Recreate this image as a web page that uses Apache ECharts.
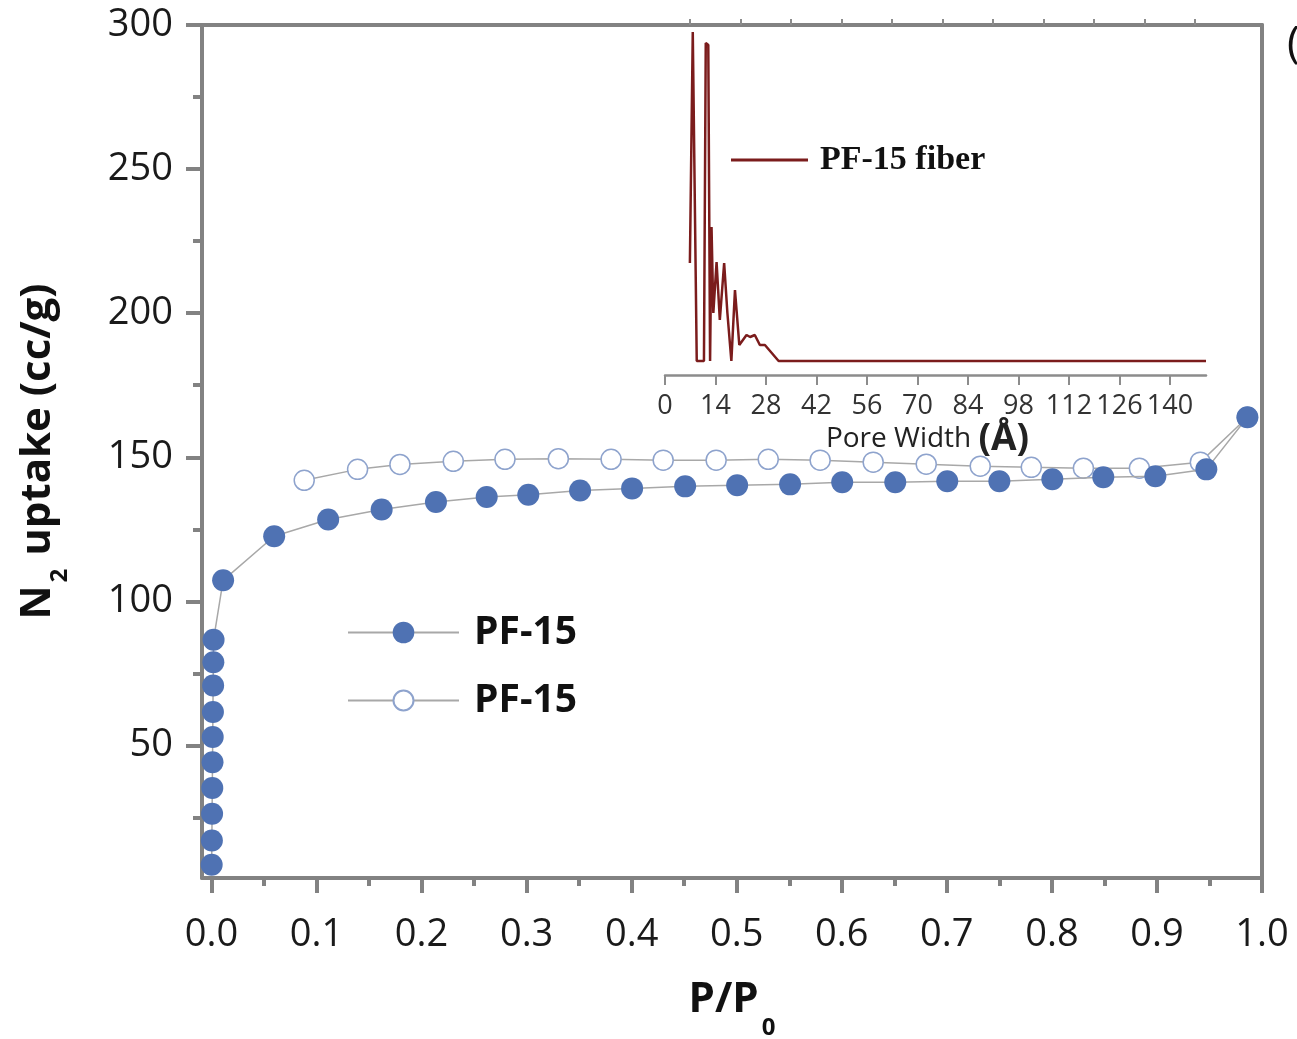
<!DOCTYPE html>
<html>
<head>
<meta charset="utf-8">
<title>N2 isotherm of PF-15</title>
<script src="https://cdn.jsdelivr.net/npm/echarts@6/dist/echarts.min.js"></script>
<style>
  html, body { margin: 0; padding: 0; background: #ffffff; }
  #chart { width: 1297px; height: 1039px; }
</style>
</head>
<body>
<div id="chart"></div>
<script>
// Adsorption branch (P/P0, N2 uptake in cc/g)
const adsP = [0.0002, 0.0004, 0.0006, 0.0008, 0.001, 0.0012, 0.0014, 0.0016, 0.0018, 0.002,
  0.0111, 0.0597, 0.1111, 0.162, 0.2137, 0.262, 0.3016, 0.3509, 0.4004, 0.4509, 0.5004,
  0.5508, 0.6004, 0.6509, 0.7004, 0.750, 0.8004, 0.8489, 0.8985, 0.947, 0.9861];
const adsV = [8.6, 17.0, 26.3, 35.2, 44.2, 52.9, 61.6, 70.8, 78.9, 86.7,
  107.3, 122.6, 128.4, 131.9, 134.5, 136.2, 137.0, 138.5, 139.2, 139.9, 140.3,
  140.6, 141.3, 141.3, 141.7, 141.7, 142.4, 143.1, 143.4, 145.8, 163.9];

// Desorption branch, running down from the top of the isotherm
const desP = [0.9861, 0.9413, 0.8833, 0.830, 0.7804, 0.7318, 0.6804, 0.6299, 0.5794, 0.530,
  0.4804, 0.430, 0.3804, 0.3302, 0.2794, 0.2302, 0.1794, 0.1391, 0.0883];
const desV = [163.9, 148.3, 146.2, 146.2, 146.5, 146.9, 147.6, 148.3, 149.0, 149.3,
  149.0, 149.0, 149.3, 149.5, 149.3, 148.6, 147.5, 145.8, 142.0];

// Pore size distribution of the fiber (pore width in Å, arbitrary units)
const poreW = [6.9, 7.7, 8.8, 10.8, 11.3, 12.0, 12.5, 12.9, 13.4, 14.3, 15.2, 16.4, 17.3, 18.4,
  19.4, 20.6, 22.6, 23.6, 24.9, 26.3, 27.7, 31.5, 150];
const poreD = [11.2, 34.3, 1.4, 1.4, 33.2, 33.0, 1.4, 14.8, 6.2, 11.3, 5.5, 11.2, 6.2, 1.4,
  8.5, 3.0, 4.0, 3.8, 4.0, 3.0, 3.0, 1.4, 1.4];

// Tick positions
const xMajor = [0, 0.1, 0.2, 0.3, 0.4, 0.5, 0.6, 0.7, 0.8, 0.9, 1.0];
const xMinor = [0.05, 0.15, 0.25, 0.35, 0.45, 0.55, 0.65, 0.75, 0.85, 0.95];
const yMajor = [50, 100, 150, 200, 250, 300];
const yMinor = [25, 75, 125, 175, 225, 275];
const poreMajor = [0, 14, 28, 42, 56, 70, 84, 98, 112, 126, 140];
const poreMinor = [7, 21, 35, 49, 63, 77, 91, 105, 119, 133, 147];

const seriesNames = { ads: 'PF-15 adsorption', des: 'PF-15 desorption', fiber: 'PF-15 fiber' };

const zip = (a, b) => a.map((v, i) => [v, b[i]]);

const AXIS_GREY = '#828282';
const FONT = '"Open Sans", "Noto Sans", sans-serif';
const BLUE = '#4f72b3';

const chart = echarts.init(document.getElementById('chart'), null, { renderer: 'canvas' });

const mainX = { min: -0.009, max: 1.0 };
const mainY = { min: 4, max: 300 };
const lineAt = (color, width) => ({ show: true, onZero: false, lineStyle: { color, width } });
const noLine = { show: false, onZero: false };

chart.setOption({
  animation: false,
  backgroundColor: '#ffffff',
  grid: [
    { left: 202, right: 35, top: 25, bottom: 161, outerBoundsMode: 'none' },
    { left: 665, right: 91, top: 25, bottom: 664, outerBoundsMode: 'none' }
  ],
  xAxis: [
    { // main bottom axis with labels and major ticks
      type: 'value', gridIndex: 0, ...mainX, position: 'bottom',
      axisLine: lineAt(AXIS_GREY, 4),
      axisTick: { show: true, customValues: xMajor, length: 15, inside: false,
        lineStyle: { color: AXIS_GREY, width: 4 } },
      axisLabel: { show: true, customValues: xMajor, margin: 38,
        formatter: v => v.toFixed(1),
        fontFamily: FONT, fontSize: 38, color: '#1a1a1a' },
      splitLine: { show: false },
      name: '{b|P/P}{s|0}', nameLocation: 'middle', nameGap: 82,
      nameTextStyle: {
        rich: {
          b: { fontFamily: FONT, fontSize: 42, fontWeight: 'bold', color: '#111' },
          s: { fontFamily: FONT, fontSize: 24, fontWeight: 'bold', color: '#111', padding: [56, 0, 0, 3] }
        }
      }
    },
    { // minor ticks of the bottom axis
      type: 'value', gridIndex: 0, ...mainX, position: 'bottom',
      axisLine: noLine,
      axisTick: { show: true, customValues: xMinor, length: 8, lineStyle: { color: AXIS_GREY, width: 4 } },
      axisLabel: { show: false }, splitLine: { show: false }
    },
    { // top frame line
      type: 'value', gridIndex: 0, ...mainX, position: 'top',
      axisLine: lineAt(AXIS_GREY, 4),
      axisTick: { show: false }, axisLabel: { show: false }, splitLine: { show: false }
    },
    { // inset pore-width axis
      type: 'value', gridIndex: 1, min: 0, max: 150,
      axisLine: lineAt('#8c8c8c', 2.5),
      axisTick: { show: true, customValues: poreMajor, length: 10, lineStyle: { color: '#8c8c8c', width: 2 } },
      axisLabel: { show: true, customValues: poreMajor, margin: 18,
        fontFamily: FONT, fontSize: 27, color: '#333' },
      splitLine: { show: false },
      name: '{a|Pore Width }{b|(Å)}', nameLocation: 'middle', nameGap: 44,
      nameTextStyle: {
        padding: [0, 16, 0, 0],
        rich: {
          a: { fontFamily: FONT, fontSize: 28, color: '#222' },
          b: { fontFamily: FONT, fontSize: 37, fontWeight: 'bold', color: '#222' }
        }
      }
    },
    { // inset minor ticks
      type: 'value', gridIndex: 1, min: 0, max: 150,
      axisLine: noLine,
      axisTick: { show: true, customValues: poreMinor, length: 6, lineStyle: { color: '#8c8c8c', width: 2 } },
      axisLabel: { show: false }, splitLine: { show: false }
    }
  ],
  yAxis: [
    {
      type: 'value', gridIndex: 0, ...mainY, position: 'left',
      axisLine: lineAt(AXIS_GREY, 4),
      axisTick: { show: true, customValues: yMajor, length: 16, lineStyle: { color: AXIS_GREY, width: 4 } },
      axisLabel: { show: true, customValues: yMajor, margin: 29,
        fontFamily: FONT, fontSize: 38, color: '#1a1a1a' },
      splitLine: { show: false },
      name: '{b|N}{s|2}{b| uptake (cc/g)}', nameLocation: 'middle', nameGap: 130, nameRotate: 90,
      nameTextStyle: {
        rich: {
          b: { fontFamily: FONT, fontSize: 42, fontWeight: 'bold', color: '#111' },
          s: { fontFamily: FONT, fontSize: 24, fontWeight: 'bold', color: '#111', padding: [44, 2, 0, 3] }
        }
      }
    },
    {
      type: 'value', gridIndex: 0, ...mainY, position: 'left',
      axisLine: noLine,
      axisTick: { show: true, customValues: yMinor, length: 9, lineStyle: { color: AXIS_GREY, width: 4 } },
      axisLabel: { show: false }, splitLine: { show: false }
    },
    { // right frame line
      type: 'value', gridIndex: 0, ...mainY, position: 'right',
      axisLine: lineAt(AXIS_GREY, 4),
      axisTick: { show: false }, axisLabel: { show: false }, splitLine: { show: false }
    },
    { // inset value axis (not drawn)
      type: 'value', gridIndex: 1, min: 0, max: 35, show: false
    }
  ],
  legend: [
    {
      data: [seriesNames.ads], left: 347, top: 613, padding: 0,
      itemWidth: 111, itemHeight: 27,
      formatter: () => 'PF-15',
      textStyle: { fontFamily: FONT, fontSize: 39, fontWeight: 'bold', color: '#111', padding: [0, 0, 0, 10] },
      selectedMode: false
    },
    {
      data: [seriesNames.des], left: 347, top: 681, padding: 0,
      itemWidth: 111, itemHeight: 25,
      formatter: () => 'PF-15',
      textStyle: { fontFamily: FONT, fontSize: 39, fontWeight: 'bold', color: '#111', padding: [0, 0, 0, 10] },
      selectedMode: false
    },
    {
      data: [seriesNames.fiber], left: 731, top: 143, padding: 0,
      icon: 'rect', itemWidth: 77, itemHeight: 3,
      textStyle: { fontFamily: '"Liberation Serif", "Times New Roman", serif', fontSize: 34,
        fontWeight: 'bold', color: '#111', padding: [0, 0, 0, 7] },
      selectedMode: false
    }
  ],
  series: [
    {
      name: seriesNames.des, type: 'line', xAxisIndex: 0, yAxisIndex: 0, z: 2,
      data: zip(desP, desV),
      symbol: 'circle', symbolSize: 20,
      lineStyle: { color: '#a8a8a8', width: 1.5 },
      itemStyle: { color: '#ffffff', borderColor: '#8ea3cd', borderWidth: 1.5 }
    },
    {
      name: seriesNames.ads, type: 'line', xAxisIndex: 0, yAxisIndex: 0, z: 3,
      data: zip(adsP, adsV),
      symbol: 'circle', symbolSize: 22,
      lineStyle: { color: '#a8a8a8', width: 1.5 },
      itemStyle: { color: BLUE, borderColor: BLUE, borderWidth: 0 }
    },
    {
      name: seriesNames.fiber, type: 'line', xAxisIndex: 3, yAxisIndex: 3, z: 4,
      data: zip(poreW, poreD),
      symbol: 'none',
      lineStyle: { color: '#7b1c1c', width: 2.5 },
      itemStyle: { color: '#7b1c1c' }
    }
  ],
  graphic: [
    { type: 'text', left: 1287, top: 22,
      style: { text: '(a)', fontFamily: FONT, fontSize: 44, fill: '#111' } }
  ]
});
</script>
</body>
</html>
